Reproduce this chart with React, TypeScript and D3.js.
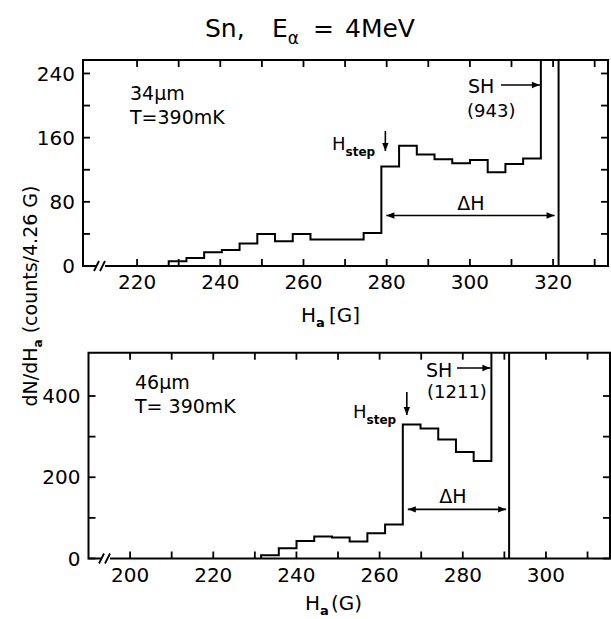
import React from "react";
import * as d3 from "d3";

// ---------- data ----------
const binWidth = 4.26;
const topStart = 227.6;
const topCounts = [6, 10, 17, 20, 28, 40, 31, 40, 33, 33, 33, 41, 124, 150, 139, 133, 128, 132, 117, 127, 134, 943];
const topXTicks = [220, 230, 240, 250, 260, 270, 280, 290, 300, 310, 320, 330];
const topXLabels = [220, 240, 260, 280, 300, 320];
const topYTicks = [0, 40, 80, 120, 160, 200, 240];
const topYLabels = [0, 80, 160, 240];

const botStart = 231.5;
const botCounts = [8, 25, 43, 54, 52, 42, 62, 84, 330, 320, 293, 262, 240, 1211];
const botXTicks = [200, 210, 220, 230, 240, 250, 260, 270, 280, 290, 300, 310];
const botXLabels = [200, 220, 240, 260, 280, 300];
const botYTicks = [0, 100, 200, 300, 400];
const botYLabels = [0, 200, 400];

const FONT = "'DejaVu Sans', sans-serif";

type PanelProps = {
  id: string;
  xDomain: [number, number];
  xRange: [number, number];
  yDomain: [number, number];
  yRange: [number, number];
  start: number;
  counts: number[];
  xTicks: number[];
  xLabels: number[];
  yTicks: number[];
  yLabels: number[];
  breakAt: number;
  children: (x: d3.ScaleLinear<number, number>, y: d3.ScaleLinear<number, number>) => React.ReactNode;
};

function Panel(p: PanelProps) {
  const x = d3.scaleLinear().domain(p.xDomain).range(p.xRange);
  const y = d3.scaleLinear().domain(p.yDomain).range(p.yRange);
  const [x0, x1] = p.xRange;
  const [yb, yt] = p.yRange;
  const tl = 7;

  const pts: [number, number][] = [];
  pts.push([x(p.start), y(0)]);
  p.counts.forEach((c, i) => {
    const a = p.start + i * binWidth;
    const b = a + binWidth;
    pts.push([x(a), y(c)]);
    pts.push([x(b), y(c)]);
  });
  pts.push([x(p.start + p.counts.length * binWidth), y(0)]);
  const line = d3.line();

  const bx = p.breakAt;
  return (
    <g>
      <defs>
        <clipPath id={`clip-${p.id}`}>
          <rect x={x0} y={yt} width={x1 - x0} height={yb - yt} />
        </clipPath>
      </defs>
      <path
        d={`M${bx - 4},${yb} L${x0},${yb} L${x0},${yt} L${x1},${yt} L${x1},${yb} L${bx + 4},${yb}`}
        fill="none"
        stroke="#000"
        strokeWidth={2}
      />
      <line x1={bx - 7} y1={yb + 5} x2={bx - 2} y2={yb - 5} stroke="#000" strokeWidth={1.8} />
      <line x1={bx - 1} y1={yb + 5} x2={bx + 4} y2={yb - 5} stroke="#000" strokeWidth={1.8} />
      {p.xTicks.map((t) => (
        <g key={`xt${t}`}>
          <line x1={x(t)} x2={x(t)} y1={yb} y2={yb - tl} stroke="#000" strokeWidth={1.8} />
          <line x1={x(t)} x2={x(t)} y1={yt} y2={yt + tl} stroke="#000" strokeWidth={1.8} />
        </g>
      ))}
      {p.xLabels.map((t) => (
        <text key={`xl${t}`} x={x(t)} y={yb + 23} textAnchor="middle" fontSize={20} fontFamily={FONT}>
          {t}
        </text>
      ))}
      {p.yTicks.map((t) => (
        <g key={`yt${t}`}>
          <line x1={x0} x2={x0 + tl} y1={y(t)} y2={y(t)} stroke="#000" strokeWidth={1.8} />
          <line x1={x1} x2={x1 - tl} y1={y(t)} y2={y(t)} stroke="#000" strokeWidth={1.8} />
        </g>
      ))}
      {p.yLabels.map((t) => (
        <text key={`yl${t}`} x={x0 - 8} y={y(t)} dy="0.36em" textAnchor="end" fontSize={20} fontFamily={FONT}>
          {t}
        </text>
      ))}
      <g clipPath={`url(#clip-${p.id})`}>
        <path d={line(pts) || ""} fill="none" stroke="#000" strokeWidth={2} strokeLinejoin="miter" />
      </g>
      {p.children(x, y)}
    </g>
  );
}

function Hstep({ x, y }: { x: number; y: number }) {
  return (
    <text x={x} y={y} fontFamily={FONT} fontSize={18}>
      H
      <tspan dy={6} fontSize={12} fontWeight="bold">
        step
      </tspan>
    </text>
  );
}

export default function App() {
  return (
    <svg width={611} height={619} style={{ position: "absolute", left: 0, top: 0, background: "#fff" }}>
      <defs>
        <marker id="ah" viewBox="0 0 10 10" refX={10} refY={5} markerWidth={10} markerHeight={8} markerUnits="userSpaceOnUse" orient="auto-start-reverse">
          <path d="M0,1 L10,5 L0,9 Z" fill="#000" />
        </marker>
      </defs>
      <rect x={0} y={0} width={611} height={619} fill="#fff" />
      <text y={37} fontFamily={FONT} fontSize={25}>
        <tspan x={205}>Sn,</tspan>
        <tspan x={272}>E</tspan>
        <tspan dy={7} fontSize={17}>α</tspan>
        <tspan dy={-7} x={313}>=</tspan>
        <tspan x={345}>4MeV</tspan>
      </text>

      <Panel
        id="top"
        xDomain={[207, 333.2]}
        xRange={[83, 608]}
        yDomain={[0, 256.8]}
        yRange={[266, 60]}
        start={topStart}
        counts={topCounts}
        xTicks={topXTicks}
        xLabels={topXLabels}
        yTicks={topYTicks}
        yLabels={topYLabels}
        breakAt={101}
      >
        {(x, y) => (
          <g>
            <text x={130} y={100} fontFamily={FONT} fontSize={19}>34μm</text>
            <text x={130} y={124} fontFamily={FONT} fontSize={19}>T=390mK</text>
            <Hstep x={332} y={150} />
            <line x1={x(topStart + 12 * binWidth) + 4} x2={x(topStart + 12 * binWidth) + 4} y1={131} y2={151} stroke="#000" strokeWidth={1.6} markerEnd="url(#ah)" />
            <text x={468} y={93} fontFamily={FONT} fontSize={19}>SH</text>
            <line x1={501} x2={x(topStart + 21 * binWidth) - 1} y1={85} y2={85} stroke="#000" strokeWidth={1.6} markerEnd="url(#ah)" />
            <text x={467} y={117} fontFamily={FONT} fontSize={18}>(943)</text>
            <text x={471} y={210} textAnchor="middle" fontFamily={FONT} fontSize={19}>ΔH</text>
            <line x1={x(topStart + 12 * binWidth) + 5} x2={x(topStart + 22 * binWidth) - 4} y1={y(63)} y2={y(63)} stroke="#000" strokeWidth={1.6} markerStart="url(#ah)" markerEnd="url(#ah)" />
          </g>
        )}
      </Panel>

      <text y={322} fontFamily={FONT} fontSize={20}>
        <tspan x={301}>H</tspan>
        <tspan dy={5} fontSize={13} fontWeight="bold">a</tspan>
        <tspan dy={-5} x={329}>[G]</tspan>
      </text>

      <Panel
        id="bot"
        xDomain={[190, 315.4]}
        xRange={[88.5, 610]}
        yDomain={[0, 506.6]}
        yRange={[558.5, 352.7]}
        start={botStart}
        counts={botCounts}
        xTicks={botXTicks}
        xLabels={botXLabels}
        yTicks={botYTicks}
        yLabels={botYLabels}
        breakAt={106}
      >
        {(x, y) => (
          <g>
            <text x={135} y={389} fontFamily={FONT} fontSize={19}>46μm</text>
            <text x={135} y={413} fontFamily={FONT} fontSize={19}>T= 390mK</text>
            <Hstep x={353} y={418} />
            <line x1={x(botStart + 8 * binWidth) + 4} x2={x(botStart + 8 * binWidth) + 4} y1={392} y2={415} stroke="#000" strokeWidth={1.6} markerEnd="url(#ah)" />
            <text x={426} y={377} fontFamily={FONT} fontSize={19}>SH</text>
            <line x1={457} x2={x(botStart + 13 * binWidth) - 1} y1={368} y2={368} stroke="#000" strokeWidth={1.6} markerEnd="url(#ah)" />
            <text x={427} y={398} fontFamily={FONT} fontSize={18}>(1211)</text>
            <text x={453} y={503} textAnchor="middle" fontFamily={FONT} fontSize={19}>ΔH</text>
            <line x1={x(botStart + 8 * binWidth) + 5} x2={x(botStart + 14 * binWidth) - 3} y1={y(121)} y2={y(121)} stroke="#000" strokeWidth={1.6} markerStart="url(#ah)" markerEnd="url(#ah)" />
          </g>
        )}
      </Panel>

      <text y={610} fontFamily={FONT} fontSize={20}>
        <tspan x={305}>H</tspan>
        <tspan dy={5} fontSize={13} fontWeight="bold">a</tspan>
        <tspan dy={-5} x={331}>(G)</tspan>
      </text>

      <text transform="translate(37,296) rotate(-90)" textAnchor="middle" fontFamily={FONT} fontSize={19}>
        dN/dH
        <tspan dy={5} fontSize={12} fontWeight="bold">a</tspan>
        <tspan dy={-5}>{"  (counts/4.26 G)"}</tspan>
      </text>
    </svg>
  );
}
